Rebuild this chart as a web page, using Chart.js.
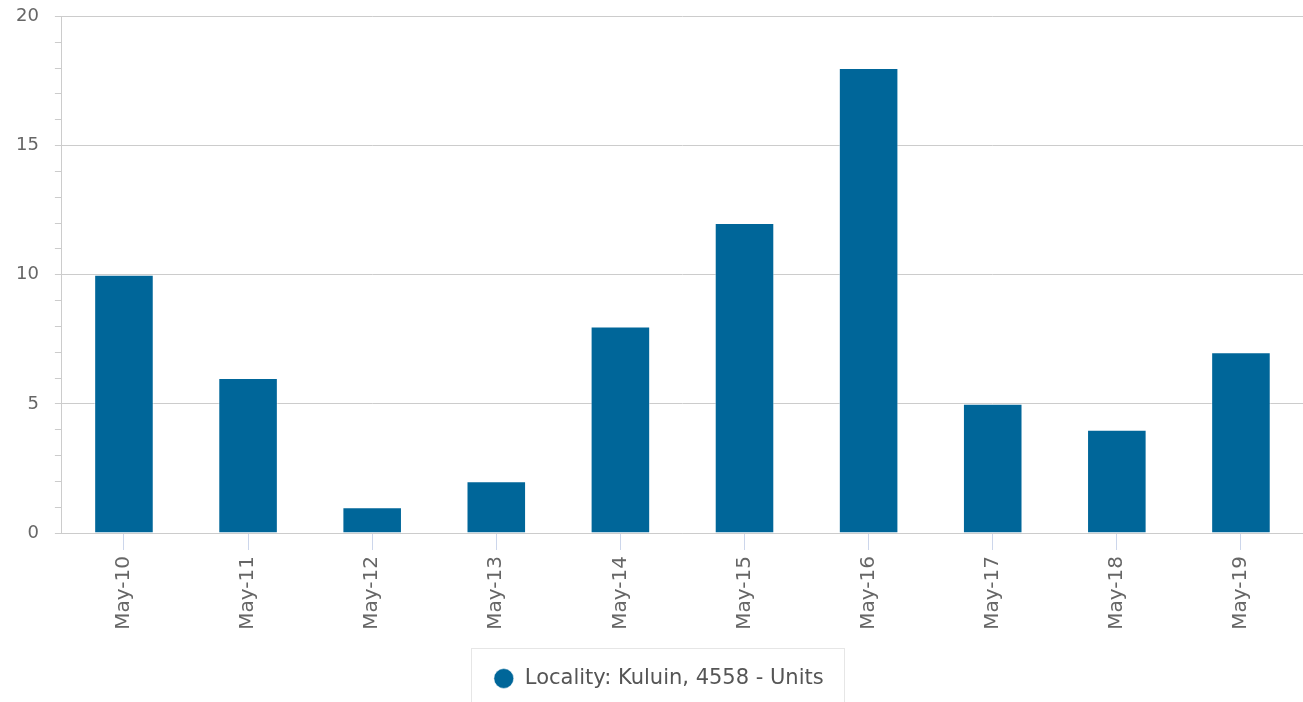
<!DOCTYPE html>
<html>
<head>
<meta charset="utf-8">
<script src="https://cdn.jsdelivr.net/npm/chart.js@4.4.1/dist/chart.umd.min.js"></script>
<style>
  html, body { margin: 0; padding: 0; background: #fff; }
  #wrap { width: 1303px; height: 702px; position: relative; }
</style>
</head>
<body>
<div id="wrap"><canvas id="chart" width="1303" height="702"></canvas></div>
<script>
  const categories = ['May-10', 'May-11', 'May-12', 'May-13', 'May-14', 'May-15', 'May-16', 'May-17', 'May-18', 'May-19'];
  const units = [10, 6, 1, 2, 8, 12, 18, 5, 4, 7];
  const seriesLabel = 'Locality: Kuluin, 4558 - Units';

  const barColor = '#006699';
  const textColor = '#666666';
  const gridColor = '#cccccc';
  const font = "'DejaVu Sans', sans-serif";

  // legend sits a little right of centre in the original, and has a frame
  const legendBox = {
    id: 'legendBox',
    afterLayout(chart) {
      const lg = chart.legend;
      if (!lg) return;
      lg.left += 7;
      lg.right += 7;
    },
    afterDraw(chart) {
      const lg = chart.legend;
      if (!lg || !lg.legendHitBoxes.length) return;
      const hb = lg.legendHitBoxes[0];
      const c = chart.ctx;
      c.save();
      c.strokeStyle = '#e6e6e6';
      c.lineWidth = 1;
      c.strokeRect(Math.round(hb.left - 22) + 0.5, Math.round(hb.top - 20) + 0.5, Math.round(hb.width + 43), 80);
      c.restore();
    }
  };

  const ctx = document.getElementById('chart').getContext('2d');
  new Chart(ctx, {
    type: 'bar',
    data: {
      labels: categories,
      datasets: [{
        label: seriesLabel,
        data: units,
        backgroundColor: barColor,
        borderColor: 'rgba(255,255,255,0.5)',
        borderWidth: 1,
        categoryPercentage: 1,
        barPercentage: 0.48
      }]
    },
    options: {
      responsive: false,
      animation: false,
      layout: { padding: { left: 0, right: 0, top: 0, bottom: 3 } },
      scales: {
        x: {
          border: { color: gridColor, width: 1 },
          grid: {
            offset: false,
            drawOnChartArea: false,
            tickColor: '#ccd6eb',
            tickLength: 17
          },
          ticks: {
            color: textColor,
            font: { family: font, size: 20 },
            minRotation: 90,
            maxRotation: 90,
            padding: 6
          },
          afterFit: s => { s.height = 121; }
        },
        y: {
          min: 0,
          max: 20,
          border: { color: gridColor, width: 1 },
          grid: {
            color: c => (c.tick && c.tick.value % 5 === 0) ? gridColor : 'rgba(0,0,0,0)',
            tickColor: gridColor,
            tickLength: 7
          },
          ticks: {
            stepSize: 1,
            autoSkip: false,
            color: textColor,
            // tiny line height keeps the top padding close to the original
            font: { family: font, size: 18, lineHeight: 0.05 },
            padding: 16,
            callback: v => (v % 5 === 0 ? v : '')
          }
        }
      },
      plugins: {
        tooltip: { enabled: false },
        legend: {
          position: 'bottom',
          labels: {
            usePointStyle: true,
            pointStyle: 'circle',
            boxWidth: 21,
            boxHeight: 14,
            color: '#555555',
            font: { family: font, size: 21 },
            padding: 14
          }
        }
      }
    },
    plugins: [legendBox]
  });
</script>
</body>
</html>
